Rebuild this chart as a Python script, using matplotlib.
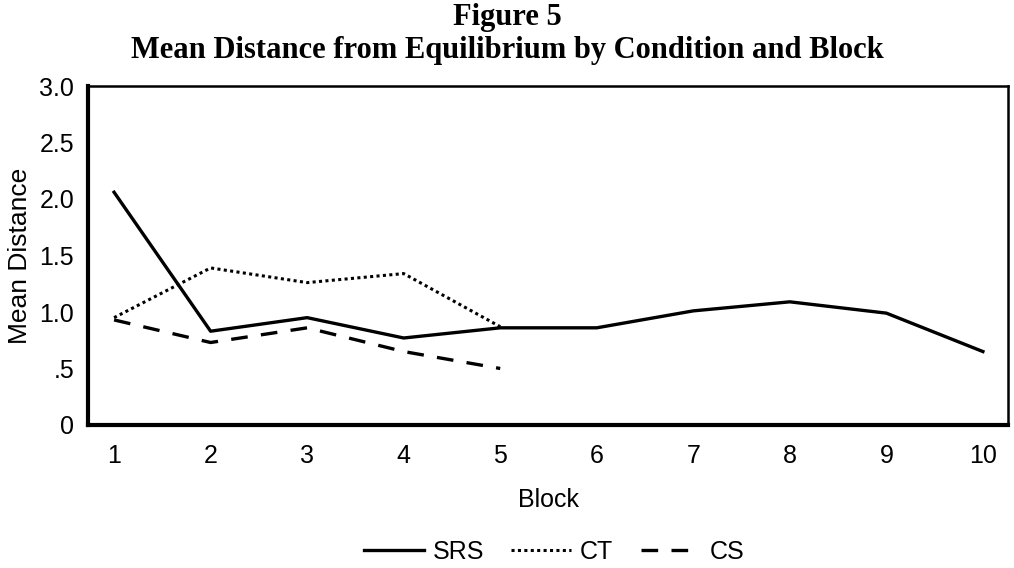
import matplotlib.pyplot as plt
import numpy as np

# data
blocks = [1, 2, 3, 4, 5, 6, 7, 8, 9, 10]
srs = [2.06, 0.83, 0.95, 0.77, 0.86, 0.86, 1.01, 1.09, 0.99, 0.65]
ct_blocks = [1, 2, 3, 4, 5]
ct = [0.95, 1.39, 1.26, 1.34, 0.87]
cs_blocks = [1, 2, 3, 4, 5]
cs = [0.93, 0.73, 0.86, 0.65, 0.50]

yticks = [0, 0.5, 1.0, 1.5, 2.0, 2.5, 3.0]
ytick_labels = ["0", ".5", "1.0", "1.5", "2.0", "2.5", "3.0"]

plt.rcParams['font.family'] = ['Liberation Sans', 'DejaVu Sans']

fig = plt.figure(figsize=(10.14, 5.68), dpi=100)
ax = fig.add_axes([88 / 1014, 1 - 425 / 568, 920 / 1014, 339 / 568])

ax.plot(blocks, srs, color='black', lw=2.4, ls='-', label='SRS')
ax.plot(ct_blocks, ct, color='black', lw=2.2, ls=(0, (1, 1.1)), label='CT')
ax.plot(cs_blocks, cs, color='black', lw=2.4, ls=(0, (5, 4)), label='CS')

ax.set_xlim(0.73, 10.26)
ax.set_ylim(0, 3.0)
ax.set_xticks(blocks)
ax.set_yticks(yticks)
ax.set_yticklabels(ytick_labels)
ax.tick_params(length=0, labelsize=18)
ax.tick_params(axis='x', pad=14)
ax.tick_params(axis='y', pad=10)
ax.set_xlabel("Block", fontsize=18, labelpad=14)
ax.set_ylabel("Mean Distance", fontsize=19, labelpad=5)

for s in ['left', 'bottom']:
    ax.spines[s].set_linewidth(3)
for s in ['top', 'right']:
    ax.spines[s].set_linewidth(1.8)

fig.text(0.5, 1 - 25 / 568, "Figure 5", ha='center', va='baseline',
         family='Liberation Serif', weight='bold', fontsize=22)
fig.text(0.5, 1 - 58 / 568, "Mean Distance from Equilibrium by Condition and Block",
         ha='center', va='baseline', family='Liberation Serif', weight='bold', fontsize=22)

fig.legend(loc='center', bbox_to_anchor=(554 / 1014, 1 - 552 / 568), ncol=3, frameon=False,
           fontsize=18, handlelength=2.4, handletextpad=0.35, columnspacing=1.1)

fig.savefig("out.png", dpi=100)
